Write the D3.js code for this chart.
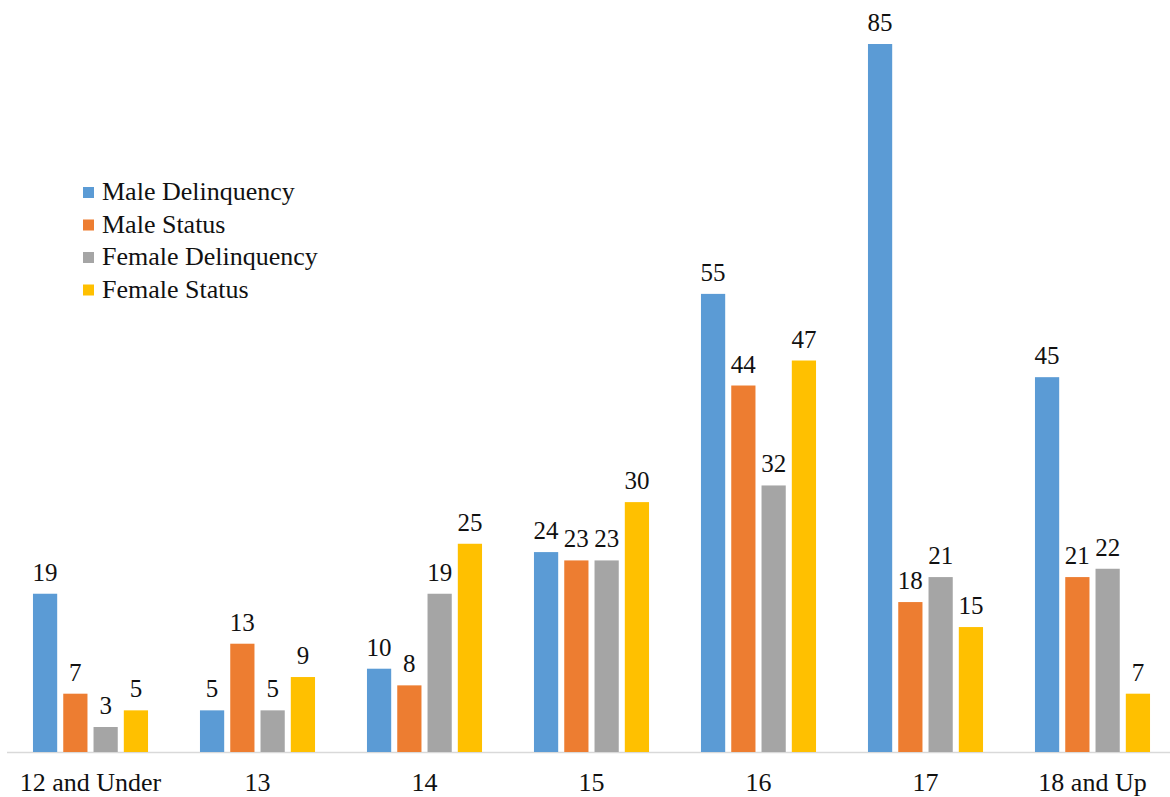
<!DOCTYPE html>
<html>
<head>
<meta charset="utf-8">
<script src="https://cdn.jsdelivr.net/npm/d3@7"></script>
<style>
  html, body { margin: 0; padding: 0; background: #fff; }
  svg { display: block; }
</style>
</head>
<body>
<div id="chart"></div>
<script>
"use strict"

// categories (age groups) and series
const ageGroups = ["12 and Under", "13", "14", "15", "16", "17", "18 and Up"];
const seriesNames = ["Male Delinquency", "Male Status", "Female Delinquency", "Female Status"];
const seriesColors = ["#5B9BD5", "#ED7D31", "#A5A5A5", "#FFC000"];

const maleDelinquency   = [19, 5, 10, 24, 55, 85, 45];
const maleStatus        = [7, 13, 8, 23, 44, 18, 21];
const femaleDelinquency = [3, 5, 19, 23, 32, 21, 22];
const femaleStatus      = [5, 9, 25, 30, 47, 15, 7];

const seriesValues = [maleDelinquency, maleStatus, femaleDelinquency, femaleStatus];

const FONT = "'Liberation Serif', 'DejaVu Serif', 'Noto Serif', Tinos, 'Times New Roman', Times, serif";

const width = 1170;
const height = 797;

const svg = d3.select("#chart").append("svg")
    .attr("width", width)
    .attr("height", height);

const baseY = 752;

let x0 = d3.scaleBand()
    .domain(ageGroups)
    .range([7, 1176])
    .paddingInner(0.311)
    .paddingOuter(0.1555);

let x1 = d3.scaleBand()
    .domain(seriesNames)
    .range([0, x0.bandwidth()])
    .paddingInner(0.2)
    .paddingOuter(0);

let y = d3.scaleLinear()
    .domain([0, 85])
    .range([baseY, 44]);

// flatten to one record per bar
let rows = [];
ageGroups.forEach((g, gi) => {
    seriesNames.forEach((s, si) => {
        rows.push({ group: g, series: s, value: seriesValues[si][gi], color: seriesColors[si] });
    });
});

// axis line
svg.append("line")
    .attr("x1", 7)
    .attr("x2", width)
    .attr("y1", baseY + 0.5)
    .attr("y2", baseY + 0.5)
    .attr("stroke", "#d9d9d9")
    .attr("stroke-width", 1.5);

// bars
svg.selectAll("rect.bar").data(rows).enter().append("rect")
    .attr("class", "bar")
    .attr("x", d => x0(d.group) + x1(d.series))
    .attr("y", d => y(d.value))
    .attr("width", x1.bandwidth())
    .attr("height", d => baseY - y(d.value))
    .attr("fill", d => d.color);

// value labels
svg.selectAll("text.val").data(rows).enter().append("text")
    .attr("class", "val")
    .attr("x", d => x0(d.group) + x1(d.series) + x1.bandwidth() / 2)
    .attr("y", d => y(d.value) - 13)
    .attr("text-anchor", "middle")
    .attr("font-family", FONT)
    .attr("font-size", 25)
    .attr("fill", "#111")
    .text(d => d.value);

// category axis labels
const xAxis = d3.axisBottom(x0).tickSize(0).tickPadding(0);
const axisG = svg.append("g")
    .attr("transform", `translate(0, ${baseY})`)
    .call(xAxis)
    .attr("font-family", FONT)
    .attr("font-size", 26);
axisG.select(".domain").remove();
axisG.selectAll("text")
    .attr("dy", 0)
    .attr("y", 39)
    .attr("fill", "#111");

// legend
const legend = svg.append("g").attr("transform", "translate(83, 200)");
seriesNames.forEach((s, i) => {
    let row = legend.append("g").attr("transform", `translate(0, ${i * 32.5})`);
    row.append("rect")
        .attr("x", 0)
        .attr("y", -13)
        .attr("width", 11)
        .attr("height", 11)
        .attr("fill", seriesColors[i]);
    row.append("text")
        .attr("x", 19)
        .attr("y", 0)
        .attr("font-family", FONT)
        .attr("font-size", 26)
        .attr("fill", "#111")
        .text(s);
});
</script>
</body>
</html>
